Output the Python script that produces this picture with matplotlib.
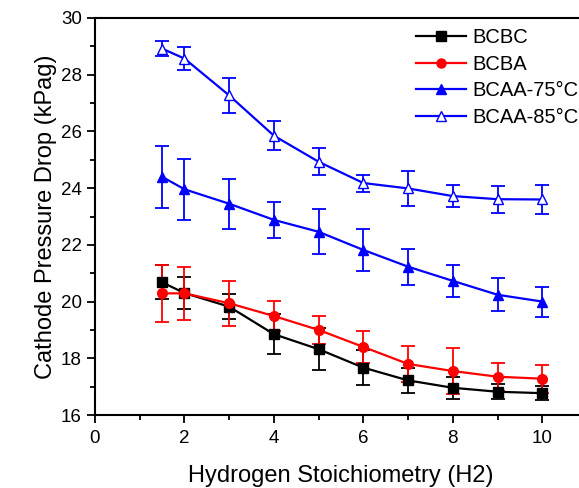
import numpy as np
import matplotlib
matplotlib.use('Agg')
import matplotlib.pyplot as plt
from matplotlib.ticker import MultipleLocator
from matplotlib.lines import Line2D

plt.rcParams['font.family'] = ['Liberation Sans', 'DejaVu Sans']

# Data
stoich = [1.5, 2, 3, 4, 5, 6, 7, 8, 9, 10]

bcbc = [20.68, 20.3, 19.82, 18.85, 18.32, 17.67, 17.22, 16.96, 16.82, 16.77]
bcbc_err = [0.6, 0.55, 0.45, 0.7, 0.75, 0.62, 0.45, 0.38, 0.26, 0.25]

bcba = [20.29, 20.29, 19.94, 19.49, 19.0, 18.4, 17.8, 17.55, 17.35, 17.28]
bcba_err = [1.0, 0.94, 0.8, 0.53, 0.5, 0.57, 0.63, 0.8, 0.5, 0.5]

bcaa75 = [24.4, 23.96, 23.45, 22.88, 22.46, 21.82, 21.23, 20.73, 20.24, 20.0]
bcaa75_err = [1.1, 1.08, 0.88, 0.64, 0.8, 0.75, 0.63, 0.57, 0.58, 0.53]

bcaa85 = [28.92, 28.57, 27.27, 25.85, 24.93, 24.18, 23.99, 23.72, 23.61, 23.6]
bcaa85_err = [0.27, 0.42, 0.62, 0.52, 0.47, 0.3, 0.62, 0.4, 0.47, 0.5]

labels = ['BCBC', 'BCBA', 'BCAA-75°C', 'BCAA-85°C']

W, H = 579, 488
fig = plt.figure(figsize=(W / 100, H / 100), dpi=100)
ax = fig.add_axes([95 / W, (H - 415) / H, 492 / W, 397 / H])

common = dict(capsize=5, elinewidth=1.3, capthick=1.3, lw=1.6, ms=7)
styles = [dict(color='black', marker='s'),
          dict(color='red', marker='o'),
          dict(color='blue', marker='^'),
          dict(color='blue', marker='^', mfc='white', mec='blue')]
series = [(bcbc, bcbc_err), (bcba, bcba_err), (bcaa75, bcaa75_err), (bcaa85, bcaa85_err)]

handles = []
for (y, e), st, lab in zip(series, styles, labels):
    ax.errorbar(stoich, y, yerr=e, **st, **common)
    handles.append(Line2D([], [], lw=1.6, ms=6.5, label=lab, **st))

ax.set_xlim(0, 11)
ax.set_ylim(16, 30)
ax.xaxis.set_major_locator(MultipleLocator(2))
ax.xaxis.set_minor_locator(MultipleLocator(1))
ax.yaxis.set_major_locator(MultipleLocator(2))
ax.yaxis.set_minor_locator(MultipleLocator(1))
ax.tick_params(which='major', direction='out', length=6, width=1.3, labelsize=13.5)
ax.tick_params(axis='x', which='major', pad=5)
ax.tick_params(which='minor', direction='out', length=3.5, width=1.3)
ax.spines['right'].set_visible(False)
for s in ['left', 'bottom', 'top']:
    ax.spines[s].set_linewidth(1.5)

ax.set_xlabel('Hydrogen Stoichiometry (H2)', fontsize=17, labelpad=13)
ax.set_ylabel('Cathode Pressure Drop (kPag)', fontsize=17, labelpad=3)

ax.legend(handles=handles, loc='upper left', bbox_to_anchor=(0.652, 0.975), frameon=False,
          fontsize=14.5, borderpad=0, borderaxespad=0, handlelength=2.5,
          handletextpad=0.3, labelspacing=0.38)

plt.savefig('out.png', dpi=100)
